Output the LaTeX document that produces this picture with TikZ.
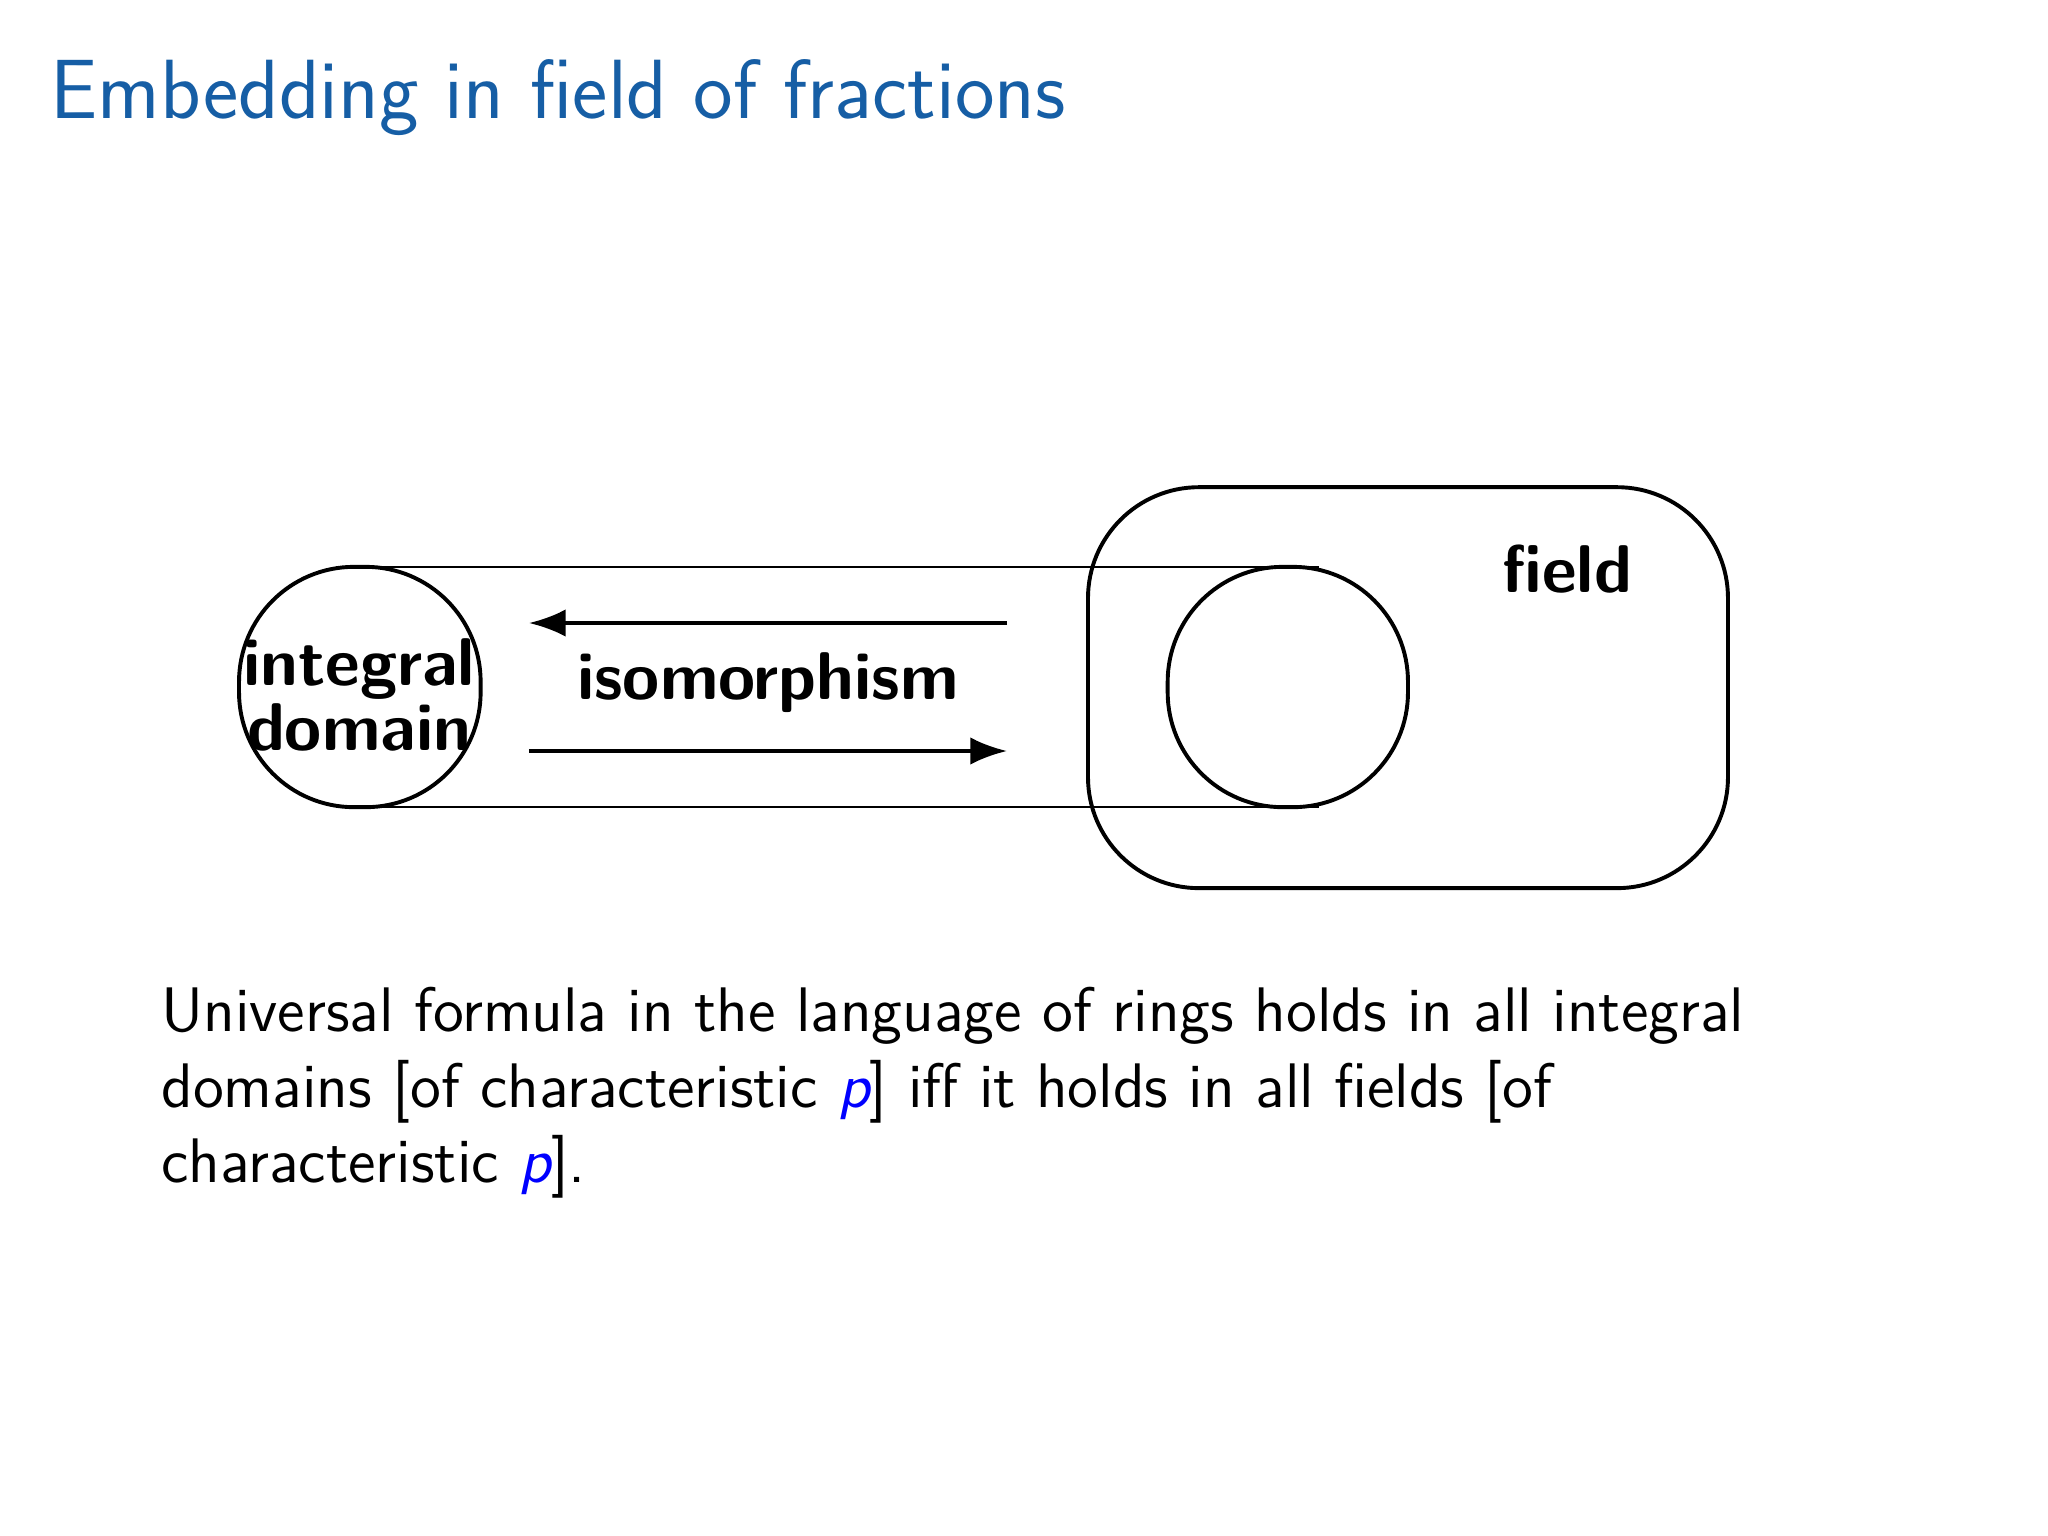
\documentclass[tikz,border=0pt]{standalone}
\usetikzlibrary{arrows.meta}
\definecolor{titleblue}{RGB}{22,94,165}
\begin{document}
\begin{tikzpicture}[x={(0.01cm,0)},y={(0,-0.01cm)},
  thick line/.style={line width=0.85pt},
  thin line/.style={line width=0.45pt},
  lbl/.style={font=\sffamily\bfseries\fontsize{14.7}{16}\selectfont, align=center, inner sep=0pt},
  body/.style={font=\sffamily\fontsize{13.7}{16}\selectfont, anchor=base west, inner sep=0pt},
  arr/.style={line width=0.85pt, -{Latex[length=8pt,width=6pt]}}]
\useasboundingbox (0,0) rectangle (1568,1176);
\node[anchor=base west, inner sep=0pt, text=titleblue, font=\sffamily\fontsize{18.3}{22}\selectfont] (title) at (38,91) {Embedding in field of fractions};
% thin band
\draw[thin line] (275,434) -- (1010,434);
\draw[thin line] (275,618) -- (1010,618);
% shapes
\draw[thick line, rounded corners=0.88cm] (183,434) rectangle (368,618);
\draw[thick line, rounded corners=0.88cm] (894,434) rectangle (1078,618);
\draw[thick line, rounded corners=0.85cm] (833,373) rectangle (1323,680);
\node[lbl] (dom) at (275,532) {integral\\[-2pt]domain};
\node[lbl] (iso) at (588,523) {isomorphism};
\node[lbl] (fld) at (1200,436) {field};
\coordinate (a1) at (771,477); \coordinate (a2) at (405,477);
\coordinate (b1) at (405,575); \coordinate (b2) at (771,575);
\draw[arr] (a1) -- (a2);
\draw[arr] (b1) -- (b2);
\node[body] (l1) at (123,790) {Universal formula in the language of rings holds in all integral};
\node[body] (l2) at (123,848) {domains [of characteristic \textit{\textcolor{blue}{p}}] iff it holds in all fields [of};
\node[body] (l3) at (123,905) {characteristic \textit{\textcolor{blue}{p}}].};
\end{tikzpicture}
\end{document}
